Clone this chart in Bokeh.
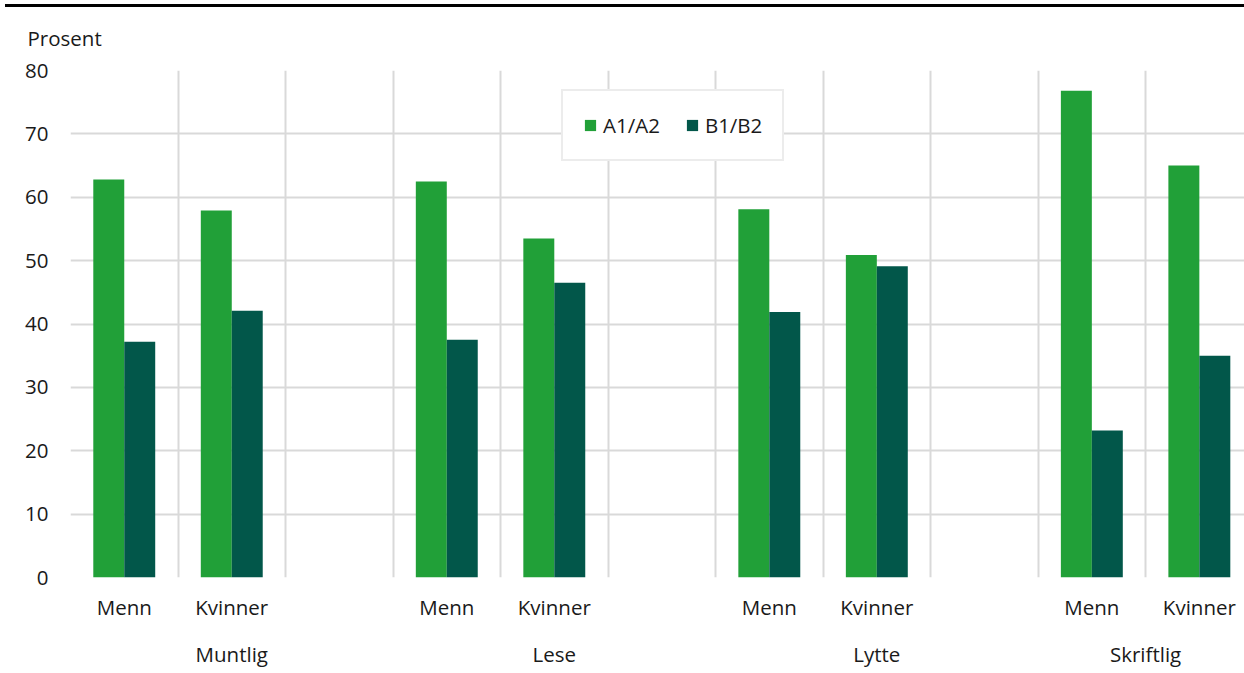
from bokeh.plotting import figure
from bokeh.models import (Range1d, FixedTicker, LinearAxis, Legend, LegendItem,
                          Title, Div, ColumnDataSource)
from bokeh.layouts import column
from bokeh.embed import file_html
from bokeh.resources import INLINE

# ---- data ----
groups = ["Muntlig", "Lese", "Lytte", "Skriftlig"]
genders = ["Menn", "Kvinner"]
series_names = ["A1/A2", "B1/B2"]
a1a2 = [62.8, 57.9, 62.5, 53.5, 58.1, 50.9, 76.8, 65.0]
b1b2 = [37.2, 42.1, 37.5, 46.5, 41.9, 49.1, 23.2, 35.0]
y_ticks = [0, 10, 20, 30, 40, 50, 60, 70, 80]
y_label = "Prosent"

# ---- styles ----
colors = ["#21a038", "#02574a"]
grid_color = "#d9d9d9"
text_color = "#1a1a1a"
font = "Open Sans"
fsize = "20.5px"

slots_per_group = len(genders) + 1
n_slots = slots_per_group * len(groups) - 1
bar_w = 0.288

centers, labels = [], []
for gi, g in enumerate(groups):
    for ki, k in enumerate(genders):
        centers.append(gi * slots_per_group + ki + 0.5)
        labels.append(k)
group_centers = []
for gi, g in enumerate(groups):
    start = gi * slots_per_group
    end = min(start + slots_per_group, n_slots)
    group_centers.append((start + end) / 2)

src = ColumnDataSource(dict(
    xa=[c - bar_w / 2 for c in centers],
    xb=[c + bar_w / 2 for c in centers],
    a=a1a2, b=b1b2))

p = figure(width=1244, height=673, output_backend="svg", toolbar_location=None,
           x_range=Range1d(0, 10.92), y_range=Range1d(0, 80),
           min_border_left=70, min_border_right=0, min_border_top=70,
           min_border_bottom=96)
p.outline_line_color = None
p.background_fill_color = "white"
p.border_fill_color = "white"
p.border_fill_alpha = 0

p.xgrid.ticker = FixedTicker(ticks=list(range(n_slots + 1)))
p.ygrid.ticker = FixedTicker(ticks=y_ticks)
for g in (p.xgrid, p.ygrid):
    g.grid_line_color = grid_color
    g.grid_line_width = 2

ra = p.vbar(x="xa", top="a", width=bar_w, source=src, fill_color=colors[0], line_color=None)
rb = p.vbar(x="xb", top="b", width=bar_w, source=src, fill_color=colors[1], line_color=None)

def style_axis(ax, standoff):
    ax.axis_line_color = None
    ax.major_tick_line_color = None
    ax.minor_tick_line_color = None
    ax.major_tick_out = 0
    ax.major_tick_in = 0
    ax.major_label_standoff = standoff
    ax.major_label_text_font = font
    ax.major_label_text_font_size = fsize
    ax.major_label_text_color = text_color

p.yaxis.ticker = FixedTicker(ticks=y_ticks)
style_axis(p.yaxis[0], 22)

p.xaxis.ticker = FixedTicker(ticks=centers)
p.xaxis.major_label_overrides = {c: l for c, l in zip(centers, labels)}
style_axis(p.xaxis[0], 15)

ax2 = LinearAxis(ticker=FixedTicker(ticks=group_centers),
                 major_label_overrides={c: g for c, g in zip(group_centers, groups)})
style_axis(ax2, 16)
p.add_layout(ax2, "below")

p.add_layout(Title(text=y_label, align="left", offset=-43, standoff=37,
                   text_font=font, text_font_size=fsize, text_font_style="normal",
                   text_color=text_color), "above")

legend = Legend(items=[LegendItem(label=series_names[0], renderers=[ra]),
                       LegendItem(label=series_names[1], renderers=[rb])],
                orientation="horizontal", location=(491, 416),
                border_line_color=grid_color, border_line_width=2,
                background_fill_color="white", background_fill_alpha=1,
                label_text_font=font, label_text_font_size=fsize,
                label_text_color=text_color, glyph_width=14, glyph_height=14,
                label_standoff=6, spacing=25, padding=20, margin=0)
p.add_layout(legend)

topline = Div(text="", width=1239, height=3, margin=(4, 0, -7, 5),
              styles={"background-color": "#000000"})

layout = column(topline, p, spacing=0)
open("out.html", "w").write(file_html(layout, INLINE))
